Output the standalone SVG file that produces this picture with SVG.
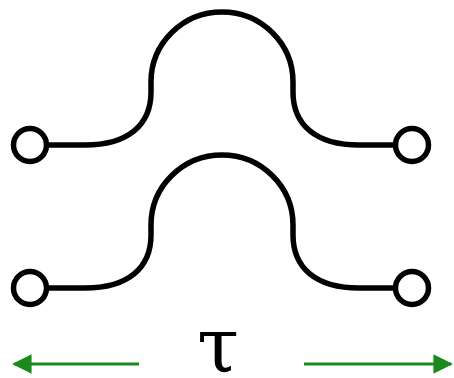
<svg xmlns="http://www.w3.org/2000/svg" width="454" height="378" viewBox="0 0 454 378">
<style>
.wire{fill:none;stroke:#000;stroke-width:5.5;stroke-linecap:round}
.port{fill:#fff;stroke:#000;stroke-width:5.5}
.arr{stroke:#1a8a1a;stroke-width:3;fill:none}
.lbl{font-family:"DejaVu Serif","Liberation Serif",serif;font-size:76px;fill:#000}
</style>
<defs>
<marker id="ah" viewBox="0 0 10 10" refX="9" refY="5" markerWidth="6.5" markerHeight="6.5" markerUnits="strokeWidth" orient="auto-start-reverse">
<path d="M0,0 L10,5 L0,10 z" fill="#1a8a1a"/>
</marker>
</defs>
<rect width="454" height="378" fill="#fff"/>
<g id="connectors">
<path class="wire" d="M47,145 H85 C128,145 151,125 151,92 V82 A71,70 0 0 1 293,82 V92 C293,125 316,145 359,145 H395"/>
<path class="wire" d="M47,288 H85 C128,288 151,268 151,235 V225 A71,70 0 0 1 293,225 V235 C293,268 316,288 359,288 H395"/>
<line class="arr" x1="139" y1="364" x2="14" y2="364" marker-end="url(#ah)"/>
<line class="arr" x1="304" y1="364" x2="451" y2="364" marker-end="url(#ah)"/>
</g>
<g id="port-tl"><circle class="port" cx="30" cy="145" r="16.5"/></g>
<g id="port-tr"><circle class="port" cx="412" cy="145" r="16.5"/></g>
<g id="port-bl"><circle class="port" cx="30" cy="288" r="16.5"/></g>
<g id="port-br"><circle class="port" cx="412" cy="288" r="16.5"/></g>
<g id="label"><text class="lbl" x="218" y="372" text-anchor="middle">τ</text></g>
</svg>
